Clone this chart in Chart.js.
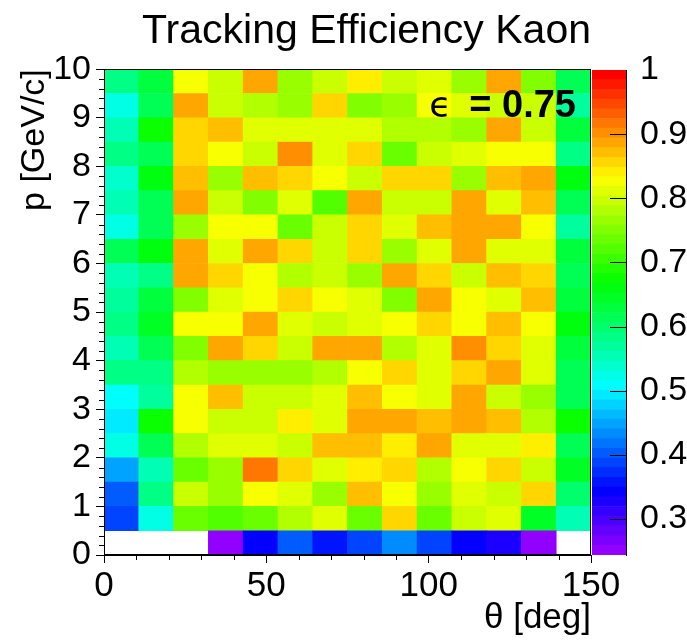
<!DOCTYPE html>
<html>
<head>
<meta charset="utf-8">
<script src="https://cdn.jsdelivr.net/npm/chart.js@4.4.1/dist/chart.umd.min.js"></script>
<style>
  html, body { margin: 0; padding: 0; background: #fff; }
  #wrap { position: relative; width: 687px; height: 641px; overflow: hidden; }
  #main { position: absolute; left: 0; top: 0; }
  #palette { position: absolute; left: 586px; top: 0; }
</style>
</head>
<body>
<div id="wrap">
  <canvas id="main" width="687" height="641"></canvas>
  <canvas id="palette" width="101" height="641"></canvas>
</div>
<script>
const titleText = 'Tracking Efficiency Kaon';
const xTitle = 'θ [deg]';
const yTitle = 'p [GeV/c]';
const meanEff = '0.75';

const thetaMin = 0, thetaMax = 150, nTheta = 14;
const pBinWidth = 0.5;
const zMin = 0.244, zMax = 1;
const xTicks = [0, 50, 100, 150];
const zTicks = [0.3, 0.4, 0.5, 0.6, 0.7, 0.8, 0.9, 1];

// efficiency per theta bin (14 bins, 0..150 deg), one array per p bin, name = low edge of p
const eff_p00 = [null, null, null, 0.25, 0.34, 0.41, 0.36, 0.39, 0.43, 0.39, 0.34, 0.32, 0.25, null];
const eff_p05 = [0.39, 0.52, 0.74, 0.72, 0.73, 0.78, 0.81, 0.74, 0.85, 0.74, 0.80, 0.81, 0.65, 0.55];
const eff_p10 = [0.41, 0.59, 0.80, 0.77, 0.83, 0.81, 0.77, 0.87, 0.82, 0.76, 0.81, 0.80, 0.85, 0.60];
const eff_p15 = [0.45, 0.55, 0.74, 0.77, 0.92, 0.86, 0.81, 0.84, 0.86, 0.78, 0.83, 0.85, 0.80, 0.64];
const eff_p20 = [0.53, 0.61, 0.78, 0.81, 0.81, 0.80, 0.87, 0.87, 0.84, 0.89, 0.81, 0.81, 0.84, 0.62];
const eff_p25 = [0.49, 0.67, 0.83, 0.80, 0.80, 0.84, 0.81, 0.88, 0.89, 0.87, 0.88, 0.87, 0.78, 0.67];
const eff_p30 = [0.51, 0.57, 0.83, 0.87, 0.80, 0.80, 0.81, 0.87, 0.83, 0.81, 0.88, 0.80, 0.77, 0.62];
const eff_p35 = [0.59, 0.58, 0.78, 0.77, 0.76, 0.77, 0.78, 0.83, 0.85, 0.81, 0.86, 0.88, 0.81, 0.61];
const eff_p40 = [0.55, 0.61, 0.75, 0.88, 0.86, 0.80, 0.88, 0.88, 0.78, 0.81, 0.90, 0.85, 0.81, 0.63];
const eff_p45 = [0.58, 0.64, 0.83, 0.83, 0.89, 0.81, 0.80, 0.81, 0.83, 0.85, 0.83, 0.87, 0.83, 0.66];
const eff_p50 = [0.57, 0.63, 0.75, 0.81, 0.82, 0.86, 0.83, 0.81, 0.75, 0.89, 0.83, 0.81, 0.87, 0.63];
const eff_p55 = [0.56, 0.59, 0.89, 0.86, 0.82, 0.78, 0.79, 0.77, 0.89, 0.85, 0.80, 0.87, 0.85, 0.61];
const eff_p60 = [0.61, 0.66, 0.89, 0.81, 0.88, 0.85, 0.80, 0.85, 0.77, 0.81, 0.88, 0.81, 0.81, 0.63];
const eff_p65 = [0.52, 0.61, 0.77, 0.83, 0.83, 0.73, 0.79, 0.85, 0.81, 0.87, 0.88, 0.89, 0.83, 0.57];
const eff_p70 = [0.55, 0.62, 0.88, 0.80, 0.75, 0.81, 0.72, 0.88, 0.79, 0.79, 0.88, 0.81, 0.87, 0.61];
const eff_p75 = [0.54, 0.66, 0.87, 0.77, 0.87, 0.85, 0.82, 0.80, 0.85, 0.85, 0.77, 0.87, 0.88, 0.66];
const eff_p80 = [0.58, 0.61, 0.85, 0.83, 0.80, 0.90, 0.81, 0.86, 0.74, 0.80, 0.81, 0.83, 0.83, 0.58];
const eff_p85 = [0.55, 0.67, 0.85, 0.87, 0.81, 0.81, 0.81, 0.81, 0.78, 0.78, 0.77, 0.89, 0.80, 0.63];
const eff_p90 = [0.53, 0.62, 0.89, 0.79, 0.78, 0.77, 0.85, 0.75, 0.77, 0.83, 0.81, 0.80, 0.79, 0.57];
const eff_p95 = [0.59, 0.63, 0.83, 0.79, 0.88, 0.77, 0.79, 0.84, 0.79, 0.81, 0.77, 0.89, 0.75, 0.62];

const effRows = [eff_p00, eff_p05, eff_p10, eff_p15, eff_p20, eff_p25, eff_p30, eff_p35, eff_p40, eff_p45,
                 eff_p50, eff_p55, eff_p60, eff_p65, eff_p70, eff_p75, eff_p80, eff_p85, eff_p90, eff_p95];

const FONT = "'Liberation Sans', Arial, Helvetica, sans-serif";

// ROOT "pretty" palette: 50 colours, hue 280 -> 0
function paletteColor(v) {
    let idx = Math.floor((v - zMin) / (zMax - zMin) * 50);
    idx = Math.max(0, Math.min(49, idx));
    const hue = 274.4 - idx * 5.6;
    return `hsl(${hue}, 100%, 50%)`;
}

const thetaStep = (thetaMax - thetaMin) / nTheta;
const thetaCenters = [];
for (let i = 0; i < nTheta; i++) thetaCenters.push(thetaMin + (i + 0.5) * thetaStep);

const datasets = effRows.map((row, r) => {
    const data = [];
    row.forEach((v, c) => {
        if (v !== null) data.push({ x: thetaCenters[c], y: [r * pBinWidth, (r + 1) * pBinWidth], v: v });
    });
    return {
        label: 'p ' + r * pBinWidth,
        data: data,
        backgroundColor: ctx => paletteColor(ctx.raw.v),
        borderWidth: 0,
        grouped: false,
        barPercentage: 1,
        categoryPercentage: 1
    };
});

const frameAndMinor = {
    id: 'frameAndMinor',
    afterDraw(chart) {
        const { ctx, chartArea, scales } = chart;
        ctx.save();
        ctx.strokeStyle = '#000';
        ctx.lineWidth = 1;
        ctx.beginPath();
        for (let t = 10; t < 150; t += 10) {
            if (t % 50 === 0) continue;
            const x = Math.round(scales.x.getPixelForValue(t)) + 0.5;
            ctx.moveTo(x, chartArea.bottom);
            ctx.lineTo(x, chartArea.bottom + 5);
        }
        for (let k = 1; k < 50; k++) {
            if (k % 5 === 0) continue;
            const y = Math.round(scales.y.getPixelForValue(k * 0.2)) + 0.5;
            ctx.moveTo(chartArea.left, y);
            ctx.lineTo(chartArea.left - 5, y);
        }
        ctx.stroke();
        ctx.strokeRect(Math.round(chartArea.left) + 0.5, Math.round(chartArea.top) + 0.5,
                       Math.round(chartArea.width) - 1, Math.round(chartArea.height) - 1);

        // mean efficiency label
        const xr = chartArea.right - 15;
        const yb = chartArea.top + 48;
        ctx.fillStyle = '#000';
        ctx.textAlign = 'right';
        ctx.textBaseline = 'alphabetic';
        ctx.font = `bold 38px ${FONT}`;
        const txt = '= ' + meanEff;
        ctx.fillText(txt, xr, yb);
        const w = ctx.measureText(txt).width;
        ctx.font = `36px 'DejaVu Sans', ${FONT}`;
        ctx.fillText('ϵ', xr - w - 18, yb);
        ctx.restore();
    }
};

new Chart(document.getElementById('main'), {
    type: 'bar',
    data: { datasets: datasets },
    options: {
        responsive: false,
        animation: false,
        layout: { padding: { right: 96 } },
        plugins: {
            legend: { display: false },
            tooltip: { enabled: false },
            title: {
                display: true,
                text: titleText,
                align: 'end',
                color: '#000',
                font: { family: FONT, size: 41, weight: 'normal' },
                padding: { top: 7, bottom: 13 }
            }
        },
        scales: {
            x: {
                type: 'linear',
                min: thetaMin,
                max: thetaMax,
                offset: false,
                afterBuildTicks: s => { s.ticks = xTicks.map(v => ({ value: v })); },
                grid: { drawOnChartArea: false, offset: false, tickLength: 8, color: '#000' },
                border: { display: true, color: '#000' },
                ticks: { color: '#000', font: { family: FONT, size: 35 }, padding: 2, maxRotation: 0, autoSkip: false },
                title: { display: true, text: xTitle, align: 'end', color: '#000', font: { family: FONT, size: 35 }, padding: { top: 0, bottom: 2 } },
                afterFit: s => { s.height = 86; }
            },
            y: {
                type: 'linear',
                min: 0,
                max: 10,
                ticks: { stepSize: 1, color: '#000', font: { family: FONT, size: 34 }, padding: 5 },
                grid: { drawOnChartArea: false, tickLength: 8, color: '#000' },
                border: { display: true, color: '#000' },
                title: { display: true, text: yTitle, align: 'end', color: '#000', font: { family: FONT, size: 34 }, padding: { top: 14 } },
                afterFit: s => { s.width = 104; }
            }
        }
    },
    plugins: [frameAndMinor]
});

// colour palette axis
const paletteSets = [];
for (let i = 0; i < 50; i++) {
    const lo = zMin + i * (zMax - zMin) / 50;
    const hi = zMin + (i + 1) * (zMax - zMin) / 50;
    paletteSets.push({
        data: [[lo, hi]],
        backgroundColor: paletteColor((lo + hi) / 2),
        borderWidth: 0,
        grouped: false,
        barPercentage: 1,
        categoryPercentage: 1
    });
}

const paletteTicks = {
    id: 'paletteTicks',
    afterDraw(chart) {
        const { ctx, chartArea, scales } = chart;
        ctx.save();
        ctx.strokeStyle = '#000';
        ctx.lineWidth = 1;
        ctx.beginPath();
        zTicks.forEach(z => {
            if (z >= zMax) return;
            const y = Math.round(scales.y.getPixelForValue(z)) + 0.5;
            ctx.moveTo(chartArea.right, y);
            ctx.lineTo(chartArea.right - 16, y);
        });
        ctx.stroke();
        ctx.restore();
    }
};

new Chart(document.getElementById('palette'), {
    type: 'bar',
    data: { labels: [''], datasets: paletteSets },
    options: {
        responsive: false,
        animation: false,
        layout: { padding: { left: 6, top: 70, bottom: 86 } },
        plugins: { legend: { display: false }, tooltip: { enabled: false } },
        scales: {
            x: { display: false },
            y: {
                type: 'linear',
                position: 'right',
                min: zMin,
                max: zMax,
                afterBuildTicks: s => { s.ticks = zTicks.map(v => ({ value: v })); },
                ticks: {
                    color: '#000',
                    font: { family: FONT, size: 34 },
                    padding: 14,
                    callback: v => String(Math.round(v * 10) / 10)
                },
                grid: { drawOnChartArea: false, drawTicks: false },
                border: { display: true, color: '#000' },
                afterFit: s => { s.width = 61; }
            }
        }
    },
    plugins: [paletteTicks]
});
</script>
</body>
</html>
